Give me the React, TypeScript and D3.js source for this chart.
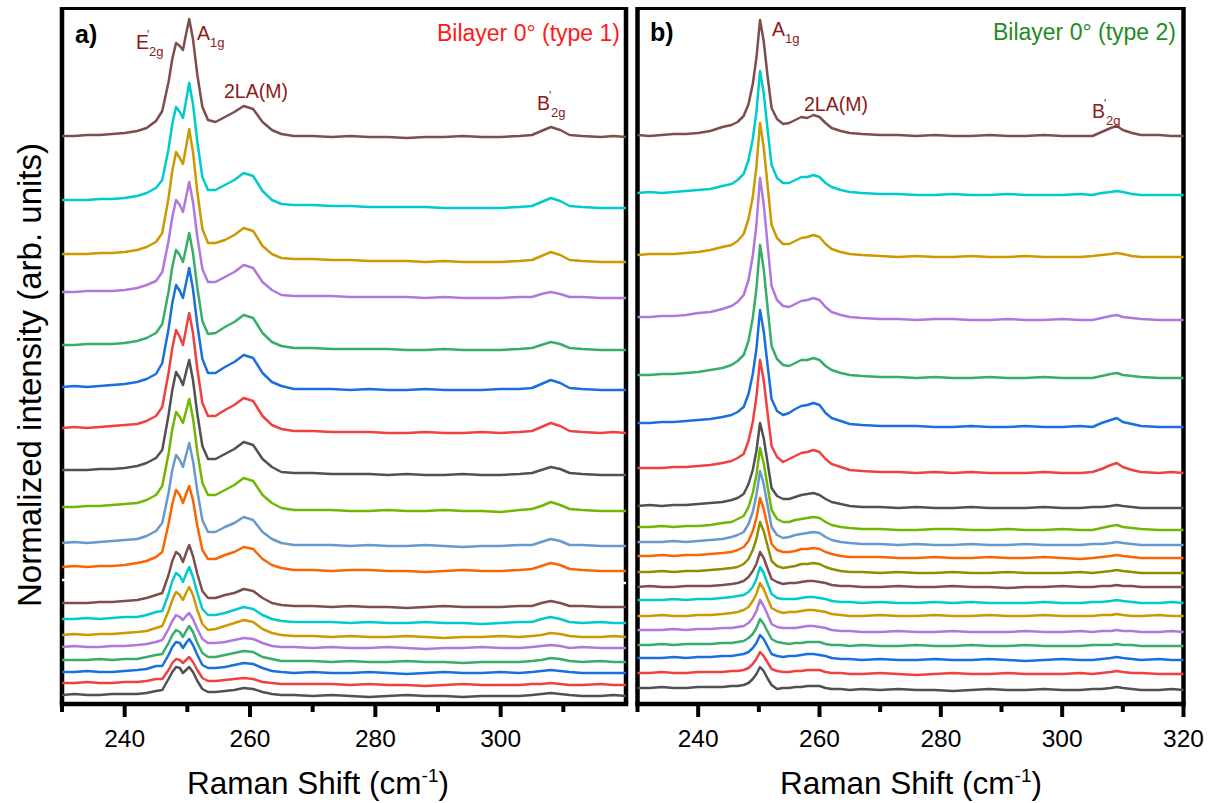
import React from "react";
import * as d3 from "d3";

// ---------- data ----------
// Raman shift sampling (cm-1)
const SHIFT_A = [230, 232, 234, 236, 238, 240, 242, 243.5, 245, 246, 247, 247.6, 248.2, 248.8, 249.3, 249.8, 250.3, 250.9, 251.6, 252.4, 253.3, 254.5, 256, 257.5, 259, 260.5, 262, 263.5, 265, 267, 270, 273, 276, 279, 282, 285, 288, 291, 294, 297, 300, 303, 305, 306.5, 308, 309.5, 311, 313, 316, 318, 320];
const SHIFT_B = [230, 232, 234, 236, 238, 240, 242, 244, 245.5, 246.5, 247.5, 248.3, 249, 249.6, 250.2, 250.8, 251.4, 252.1, 253, 254, 255, 256, 257, 258, 259, 260, 261, 262, 263.5, 265, 267, 270, 273, 276, 279, 282, 285, 288, 291, 294, 297, 300, 303, 305, 306.5, 308, 309, 310, 311.5, 313, 316, 318, 320];

// Panel a spectra (bottom -> top), intensity above own baseline (arb. units)
const a01 = [1,2,1,1,2,2,2,3,5, 6,17,24,29,28,23,26,29,24,15,7,4, 4,5,6,8,7,4,2,1,1, 0,1,0,-1,0,1,0,0,-1,0,0, 0,1,2,3,2,1, 0,0,1,0];
const a02 = [2,2,3,2,2,3,3,4,6, 6,15,22,26,25,22,25,28,23,15,7,4, 4,5,6,7,6,3,2,1,1, 1,1,0,1,0,0,-1,0,1,0,0, 0,1,1,2,1,0, 0,1,0,0];
const a03 = [1,1,2,1,1,2,3,4,7, 7,18,26,31,30,25,30,34,28,18,8,5, 5,6,8,10,9,5,2,1,0, 1,0,0,1,0,-1,0,1,0,0,1, 0,1,2,3,2,1, 0,0,0,0];
const a04 = [2,2,2,3,2,3,3,5,7, 8,19,27,32,30,25,31,36,30,19,9,5, 5,7,9,11,10,5,3,1,1, 1,0,1,0,0,1,0,0,-1,0,0, 0,1,2,4,3,1, 0,1,0,0];
const a05 = [1,2,1,1,2,2,3,4,6, 8,19,27,33,31,28,32,35,29,19,9,5, 5,6,8,10,9,5,2,1,1, 0,1,0,0,1,0,-1,0,0,1,0, 0,1,2,3,2,0, 1,0,0,0];
const a06 = [2,3,2,3,3,4,5,6,9, 11,26,37,45,42,37,44,50,42,27,13,7, 8,11,14,17,15,8,4,2,1, 1,0,1,0,0,1,0,-1,0,0,1, 0,1,2,4,3,1, 0,0,1,0];
const a07 = [4,4,5,4,5,6,6,8,11, 12,29,42,50,47,41,49,56,46,30,14,8, 8,10,13,16,14,8,4,2,1, 1,1,0,1,0,0,1,0,0,-1,0, 1,1,4,6,4,1, 0,1,0,0];
const a08 = [4,4,4,5,5,6,7,9,12, 14,32,46,55,52,45,54,62,51,33,16,9, 9,12,14,18,16,9,4,2,1, 1,0,1,0,0,-1,0,1,0,0,0, 1,1,4,6,4,1, 1,0,0,0];
const a09 = [3,3,4,3,4,5,6,8,11, 16,41,58,70,66,60,68,75,62,40,19,11, 10,13,16,20,18,10,5,2,1, 1,1,0,0,1,0,0,1,0,0,0, 0,1,4,6,4,1, 0,0,0,0];
const a10 = [4,5,4,5,5,6,8,10,14, 19,47,67,81,76,68,77,85,71,45,21,12, 12,16,19,24,22,12,6,3,1, 1,0,1,1,0,0,-1,0,1,0,0, 1,2,5,8,6,2, 1,0,0,0];
const a11 = [3,4,3,4,5,6,7,10,15, 23,53,76,91,86,79,91,103,85,55,26,14, 14,19,23,29,26,14,7,3,1, 1,1,0,1,0,0,1,0,-1,0,0, 1,1,4,7,5,1, 1,0,0,0];
const a12 = [4,4,5,5,6,7,8,11,16, 25,57,82,99,94,88,100,112,93,59,28,16, 16,21,26,33,30,16,8,3,1, 1,1,0,0,1,0,0,1,0,0,-1, 1,2,5,9,6,2, 1,0,0,0];
const a13 = [5,5,5,6,6,7,9,12,17, 25,60,85,103,97,90,103,115,95,61,29,16, 16,21,26,33,30,16,8,3,2, 2,1,1,1,0,1,0,0,1,0,0, 1,2,5,8,6,2, 1,0,0,0];
const a14 = [5,6,5,6,7,8,9,12,17, 26,60,85,103,96,88,104,120,100,64,30,17, 17,23,28,35,32,17,8,4,2, 2,1,1,1,0,0,1,0,0,1,0, 1,2,6,10,7,2, 1,0,1,0];
const a15 = [3,4,3,4,5,6,8,11,16, 27,61,87,105,99,92,107,122,101,65,31,17, 17,23,28,35,32,17,8,4,1, 1,1,0,1,0,0,1,0,0,0,1, 1,2,6,10,7,2, 1,0,0,0];
const a16 = [5,5,6,6,6,7,9,12,17, 26,58,83,100,95,88,102,117,97,62,29,16, 17,23,28,35,32,17,8,4,2, 2,1,1,1,1,0,0,1,0,0,0, 1,2,5,8,6,2, 1,0,0,0];
const a17 = [6,6,7,7,7,8,10,13,17, 26,57,81,98,93,86,101,116,96,61,29,16, 16,21,26,33,30,16,8,3,2, 2,2,1,1,1,1,0,1,0,0,0, 1,1,4,6,4,1, 1,0,0,0];
const a18 = [8,8,8,9,9,10,12,15,20, 29,64,91,110,104,98,115,133,110,70,33,19, 19,22,27,34,31,16,8,4,3, 3,2,2,1,1,1,0,1,0,0,0, 1,2,6,10,7,2, 1,0,0,0];
const a19 = [8,8,8,9,9,10,12,15,20, 28,59,84,101,96,90,107,125,104,66,31,18, 18,23,28,35,32,17,8,4,3, 3,2,2,1,1,1,1,0,0,0,0, 1,2,6,10,7,2, 1,0,0,0];
const a20 = [1,1,2,2,3,4,6,9,16, 26,55,78,94,91,87,103,118,98,62,30,17, 15,20,25,31,28,15,7,3,1, 1,0,1,0,0,-1,0,0,1,0,0, 1,2,6,10,7,2, 1,0,1,0];
const OFFSETS_A = [8, 19, 31, 42, 56, 67, 81, 97, 121, 133, 158, 193, 229, 271, 314, 354, 406, 442, 496, 567];

// Panel b spectra (bottom -> top)
const b01 = [2,2,3,2,2,3,3, 3,4,4,5,7,11,16,23,19,12,5,1,2, 2,3,3,4,4,4,2,1,1,0,1, 0,1,0,0,-1,0,1,0,0,1,0,0,1, 1,2,3,2,1,0, 0,1,0];
const b02 = [1,1,2,1,1,2,2, 2,3,3,4,6,10,15,22,18,12,5,3,2, 2,3,3,4,4,4,2,1,1,0,0, 1,0,-1,0,1,0,0,1,0,0,0,1,0, 1,2,3,2,1,1, 0,0,0];
const b03 = [2,2,2,3,2,3,3, 4,4,5,6,8,12,17,25,21,14,6,4,3, 4,4,5,6,6,5,4,2,1,1,0, 1,0,0,1,0,0,1,0,-1,0,1,0,0, 1,2,3,2,1,0, 1,0,0];
const b04 = [1,1,2,1,2,2,2, 3,3,4,5,8,12,18,27,22,15,7,4,3, 2,3,3,4,4,4,2,1,1,0,1, 0,0,1,0,0,1,0,0,1,0,0,0,1, 1,1,2,1,1,0, 0,0,0];
const b05 = [2,2,2,3,2,3,3, 4,4,5,6,9,14,21,32,26,18,8,5,4, 4,4,5,6,6,5,4,2,1,1,0, 0,1,0,0,1,0,0,0,1,0,0,1,0, 1,1,2,1,1,0, 0,1,0];
const b06 = [0,0,1,0,0,1,1, 2,3,4,6,9,15,22,33,27,18,8,5,3, 4,4,5,6,6,5,4,2,1,0,0, 1,0,0,1,0,0,1,0,0,1,0,0,0, 1,1,2,1,0,0, 1,0,0];
const b07 = [3,3,3,4,3,4,4, 5,6,7,8,11,16,24,36,30,20,9,5,4, 4,4,5,6,6,5,4,2,1,1,0, 1,0,0,1,0,1,0,0,0,1,0,0,1, 1,2,3,2,1,0, 0,1,0];
const b08 = [0,1,0,0,1,1,1, 2,3,4,6,10,16,23,35,29,19,8,5,3, 4,4,5,6,6,5,4,2,1,1,0, 0,1,0,0,1,0,0,-1,0,0,1,0,0, 1,1,2,1,1,0, 0,0,0];
const b09 = [1,1,2,1,2,2,3, 4,5,6,9,14,23,34,51,42,28,12,7,5, 6,7,9,9,10,9,6,4,2,1,1, 0,1,0,0,1,0,0,1,0,0,0,1,0, 1,2,3,2,1,0, 0,0,0];
const b10 = [2,2,3,2,3,3,4, 5,6,8,11,17,27,40,60,49,33,14,8,6, 6,7,9,9,10,9,6,4,2,1,1, 1,0,0,1,0,0,1,0,0,1,0,-1,0, 1,2,3,2,1,0, 0,0,0];
const b11 = [3,3,3,4,3,4,5, 6,8,10,13,21,33,50,74,61,41,18,10,7, 8,10,11,12,13,12,8,5,3,2,1, 1,0,1,0,0,1,0,0,1,0,0,0,1, 1,2,3,2,1,0, 0,0,0];
const b12 = [3,3,4,3,4,4,5, 7,8,11,14,23,37,55,82,67,45,20,11,8, 8,10,11,12,13,12,8,5,3,2,1, 1,0,0,1,1,0,0,1,0,0,1,0,0, 2,4,5,3,2,1, 0,0,0];
const b13 = [2,3,2,3,3,4,5, 6,8,10,14,24,38,57,85,70,47,20,12,9, 9,11,13,14,15,13,9,6,4,2,1, 1,0,1,0,0,1,0,0,0,1,0,0,1, 1,2,3,2,1,0, 0,0,0];
const b14 = [5,5,5,6,6,7,8, 10,12,15,19,32,51,76,113,93,62,27,16,11, 14,17,20,21,23,21,14,9,6,3,2, 1,1,0,1,0,1,0,0,0,1,0,0,1, 4,8,10,6,3,1, 0,1,0];
const b15 = [4,4,5,5,6,7,8, 10,12,15,20,33,53,78,117,96,64,28,16,12, 14,18,21,22,24,22,14,9,6,3,2, 1,1,1,0,0,1,0,0,1,0,0,1,0, 4,7,9,5,3,1, 0,0,0];
const b16 = [3,3,4,4,5,6,8, 10,13,17,23,37,60,89,133,109,73,32,19,13, 12,15,18,18,20,18,12,8,5,3,2, 1,1,0,1,0,0,1,0,0,1,0,0,0, 2,4,5,3,2,1, 0,0,0];
const b17 = [3,3,4,4,5,7,8, 11,14,18,25,40,64,95,142,116,78,34,20,14, 13,16,19,20,22,20,13,8,5,3,2, 1,1,0,1,1,0,0,1,0,0,1,0,0, 2,4,5,3,2,1, 0,0,0];
const b18 = [2,3,3,3,4,5,7, 10,12,16,23,38,60,90,134,110,74,32,19,13, 13,16,19,20,22,20,13,8,5,3,2, 1,0,1,0,0,1,0,0,1,0,0,0,1, 2,3,4,3,1,0, 0,0,0];
const b19 = [2,3,2,3,4,5,6, 9,11,15,21,35,56,83,124,102,68,30,17,12, 12,15,18,18,20,18,12,8,5,3,2, 1,1,0,0,1,0,0,1,0,0,0,1,0, 2,3,4,3,1,0, 0,0,0];
const b20 = [1,0,1,2,2,3,5, 9,11,14,20,32,52,78,116,95,62,28,17,12, 13,16,19,18,21,19,13,8,5,3,2, 1,1,0,1,0,0,1,0,0,1,0,0,0, 4,8,10,6,3,1, 1,0,0];
const OFFSETS_B = [14, 30, 44, 58, 72, 88, 101, 117, 131, 146, 159, 174, 196, 231, 277, 326, 384, 447, 509, 568];

const MAJOR_TICKS_A = [240, 260, 280, 300];
const MAJOR_TICKS_B = [240, 260, 280, 300, 320];
const MINOR_TICKS = [230, 250, 270, 290, 310];

// ---------- styles ----------
const C = {
  gray: "#515151", red: "#F14040", blue: "#1A6FDF", green: "#37AD6B",
  purple: "#B177DE", gold: "#CC9900", cyan: "#00CBCC", brown: "#7D4E4E",
  olive: "#8E8E00", orange: "#FB6501", lblue: "#6699CC", lime: "#6FB802",
  white: "#FFFFFF",
};
const COLORS_A = [C.gray, C.red, C.blue, C.green, C.purple, C.gold, C.cyan, C.brown, C.white, C.orange, C.lblue, C.lime, C.gray, C.red, C.blue, C.green, C.purple, C.gold, C.cyan, C.brown];
const COLORS_B = [C.gray, C.red, C.blue, C.green, C.purple, C.gold, C.cyan, C.brown, C.olive, C.orange, C.lblue, C.lime, C.gray, C.red, C.blue, C.green, C.purple, C.gold, C.cyan, C.brown];

const SPECTRA_A = [a01, a02, a03, a04, a05, a06, a07, a08, a09, a10, a11, a12, a13, a14, a15, a16, a17, a18, a19, a20];
const SPECTRA_B = [b01, b02, b03, b04, b05, b06, b07, b08, b09, b10, b11, b12, b13, b14, b15, b16, b17, b18, b19, b20];

const FONT = "'Liberation Sans', Arial, Helvetica, sans-serif";
const LABEL = "#8B1A1A";
const TOP = 8.5;
const BOTTOM = 704;

const yScale = d3.scaleLinear().domain([0, 695]).range([BOTTOM, BOTTOM - 695]);

function Panel({ xs, spectra, offsets, colors, left, right, majors, titleX }: any) {
  const x = d3.scaleLinear().domain([230, 320]).range([left, right]);
  const order = spectra.map((_: any, i: number) => i);
  const whiteFirst = [...order.filter((i: number) => colors[i] === C.white), ...order.filter((i: number) => colors[i] !== C.white)];
  return (
    <g>
      {/* frame */}
      <line x1={left} x2={right} y1={TOP} y2={TOP} stroke="#000" strokeWidth={3} />
      <line x1={left} x2={left} y1={TOP - 1.5} y2={BOTTOM} stroke="#000" strokeWidth={4.5} />
      <line x1={right} x2={right} y1={TOP - 1.5} y2={BOTTOM} stroke="#000" strokeWidth={4.5} />
      <line x1={left - 2.25} x2={right + 2.25} y1={BOTTOM} y2={BOTTOM} stroke="#000" strokeWidth={4.5} />
      {majors.map((t: number) => (
        <g key={"M" + t}>
          <line x1={x(t)} x2={x(t)} y1={BOTTOM} y2={BOTTOM + 13} stroke="#000" strokeWidth={4} />
          <text x={x(t)} y={BOTTOM + 43} textAnchor="middle" fontSize={24.5} fontFamily={FONT} fill="#000">{t}</text>
        </g>
      ))}
      {MINOR_TICKS.map((t: number) => (
        <line key={"m" + t} x1={x(t)} x2={x(t)} y1={BOTTOM} y2={BOTTOM + 8} stroke="#000" strokeWidth={4} />
      ))}
      <text x={titleX} y={794} textAnchor="middle" fontSize={31.5} fontFamily={FONT} fill="#000">
        Raman Shift (cm<tspan dy={-12} fontSize={19}>-1</tspan><tspan dy={12}>)</tspan>
      </text>
      {whiteFirst.map((i: number) => {
        const line = d3.line<number>().x((_, k) => x(xs[k])).y((v) => yScale(offsets[i] + v));
        return <path key={i} d={line(spectra[i]) || ""} fill="none" stroke={colors[i]} strokeWidth={2.5} strokeLinejoin="round" />;
      })}
    </g>
  );
}

export default function App() {
  return (
    <svg width={1217} height={803} style={{ position: "absolute", left: 0, top: 0, background: "#fff" }}>
      <rect width={1217} height={803} fill="#fff" />
      <Panel xs={SHIFT_A} spectra={SPECTRA_A} offsets={OFFSETS_A} colors={COLORS_A} left={62} right={626} majors={MAJOR_TICKS_A} titleX={318} />
      <Panel xs={SHIFT_B} spectra={SPECTRA_B} offsets={OFFSETS_B} colors={COLORS_B} left={637.5} right={1183.5} majors={MAJOR_TICKS_B} titleX={911} />

      <text transform="translate(41,375) rotate(-90)" textAnchor="middle" fontSize={33} fontFamily={FONT} fill="#000">Normalized intensity (arb. units)</text>

      {/* panel a annotations */}
      <text x={75} y={43} fontSize={25} fontWeight="bold" fontFamily={FONT} fill="#000">a)</text>
      <text x={620} y={41} textAnchor="end" fontSize={23} fontFamily={FONT} fill="#FF1A1A">Bilayer 0° (type 1)</text>
      <text x={136} y={49} fontSize={19.5} fontFamily={FONT} fill={LABEL}>E</text>
      <text x={147} y={39} fontSize={12} fontFamily={FONT} fill={LABEL}>'</text>
      <text x={149} y={56} fontSize={13} fontFamily={FONT} fill={LABEL}>2g</text>
      <text x={197} y={40} fontSize={19.5} fontFamily={FONT} fill={LABEL}>A</text>
      <text x={210} y={47} fontSize={13} fontFamily={FONT} fill={LABEL}>1g</text>
      <text x={224} y={98} fontSize={19.5} fontFamily={FONT} fill={LABEL}>2LA(M)</text>
      <text x={537} y={110} fontSize={19.5} fontFamily={FONT} fill={LABEL}>B</text>
      <text x={549} y={100} fontSize={12} fontFamily={FONT} fill={LABEL}>'</text>
      <text x={551} y={117} fontSize={13} fontFamily={FONT} fill={LABEL}>2g</text>

      {/* panel b annotations */}
      <text x={650} y={41} fontSize={25} fontWeight="bold" fontFamily={FONT} fill="#000">b)</text>
      <text x={1176} y={40} textAnchor="end" fontSize={23} fontFamily={FONT} fill="#1E8C1E">Bilayer 0° (type 2)</text>
      <text x={772} y={36} fontSize={19.5} fontFamily={FONT} fill={LABEL}>A</text>
      <text x={785} y={43} fontSize={13} fontFamily={FONT} fill={LABEL}>1g</text>
      <text x={804} y={111} fontSize={19.5} fontFamily={FONT} fill={LABEL}>2LA(M)</text>
      <text x={1092} y={118} fontSize={19.5} fontFamily={FONT} fill={LABEL}>B</text>
      <text x={1104} y={108} fontSize={12} fontFamily={FONT} fill={LABEL}>'</text>
      <text x={1106} y={125} fontSize={13} fontFamily={FONT} fill={LABEL}>2g</text>
    </svg>
  );
}
